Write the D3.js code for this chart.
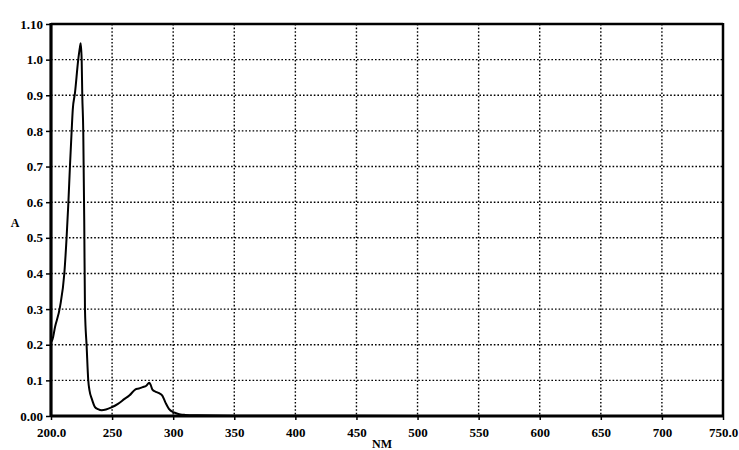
<!DOCTYPE html>
<html>
<head>
<meta charset="utf-8">
<script src="https://cdn.jsdelivr.net/npm/d3@7"></script>
<style>
    body { margin: 0; background: #fff; }
    .axis text { font-family: "Liberation Serif", serif; font-weight: bold; font-size: 13px; fill: #000; }
    .axis path { display: none; }
    .axis line { stroke: #000; stroke-width: 1.5; }
</style>
</head>
<body>
<script>
// spectrum
var wavelengths = [200, 200.7, 203.3, 207.4, 210.9, 212.8, 214.2, 215.5, 216.9, 217.8, 219.6, 222.3, 223.7, 224.3,
    225.1, 225.6, 226.4, 227.2, 227.8, 229.2, 230.5, 231.5, 233.4, 236, 238.5, 241.5, 245, 249.5, 254.8,
    260.2, 264.3, 267, 269.7, 272, 275, 278, 280.4, 281.5, 283, 285.8, 288.5, 291.1,
    293.9, 296.5, 300.6, 303, 306, 310, 320, 350, 400, 500, 600, 750];
var absorbance = [0.225, 0.21, 0.25, 0.307, 0.40, 0.503, 0.597, 0.70, 0.80, 0.859, 0.906, 1.0, 1.035, 1.046,
    1.0, 0.90, 0.80, 0.55, 0.30, 0.194, 0.10, 0.072, 0.048, 0.025, 0.019, 0.016, 0.018, 0.024, 0.034,
    0.048, 0.058, 0.068, 0.076, 0.077, 0.081, 0.085, 0.093, 0.088, 0.074, 0.068, 0.064, 0.057,
    0.036, 0.02, 0.01, 0.007, 0.004, 0.003, 0.002, 0.001, 0.001, 0, 0, 0];

var xTicks = [200, 250, 300, 350, 400, 450, 500, 550, 600, 650, 700, 750];
var xTickLabels = ["200.0", "250", "300", "350", "400", "450", "500", "550", "600", "650", "700", "750.0"];
var yTicks = [0, 0.1, 0.2, 0.3, 0.4, 0.5, 0.6, 0.7, 0.8, 0.9, 1.0, 1.1];
var yTickLabels = ["0.00", "0.1", "0.2", "0.3", "0.4", "0.5", "0.6", "0.7", "0.8", "0.9", "1.0", "1.10"];

var width = 739;
var height = 450;
var plotL = 51, plotR = 723, plotT = 24, plotB = 416;

var svg = d3.select("body").append("svg")
    .attr("width", width)
    .attr("height", height);

var xScale = d3.scaleLinear().domain([200, 750]).range([plotL, plotR]);
var yScale = d3.scaleLinear().domain([0, 1.1]).range([plotB, plotT]);

// dotted grid
svg.append("g").selectAll("line")
    .data(xTicks.slice(1, -1))
    .enter().append("line")
    .attr("x1", (d) => xScale(d)).attr("x2", (d) => xScale(d))
    .attr("y1", plotT).attr("y2", plotB)
    .attr("stroke", "#000").attr("stroke-width", 1.4)
    .attr("stroke-dasharray", "1.6,2");
svg.append("g").selectAll("line")
    .data(yTicks.slice(1, -1))
    .enter().append("line")
    .attr("x1", plotL).attr("x2", plotR)
    .attr("y1", (d) => yScale(d)).attr("y2", (d) => yScale(d))
    .attr("stroke", "#000").attr("stroke-width", 1.4)
    .attr("stroke-dasharray", "1.6,2");

var xAxisGen = d3.axisBottom(xScale)
    .tickValues(xTicks)
    .tickSize(4)
    .tickPadding(8)
    .tickFormat((d, i) => xTickLabels[i]);
svg.append("g").attr("class", "axis")
    .attr("transform", "translate(0," + plotB + ")")
    .call(xAxisGen);

var yAxisGen = d3.axisLeft(yScale)
    .tickValues(yTicks)
    .tickSize(5)
    .tickPadding(3)
    .tickFormat((d, i) => yTickLabels[i]);
svg.append("g").attr("class", "axis")
    .attr("transform", "translate(" + plotL + ",0)")
    .call(yAxisGen);

// frame
svg.append("line").attr("x1", plotL).attr("x2", plotR).attr("y1", plotT).attr("y2", plotT)
    .attr("stroke", "#000").attr("stroke-width", 2.5);
svg.append("line").attr("x1", plotR).attr("x2", plotR).attr("y1", plotT - 1).attr("y2", plotB)
    .attr("stroke", "#000").attr("stroke-width", 2.5);
svg.append("line").attr("x1", plotL).attr("x2", plotR + 1).attr("y1", plotB).attr("y2", plotB)
    .attr("stroke", "#000").attr("stroke-width", 3.2);
svg.append("line").attr("x1", plotL).attr("x2", plotL).attr("y1", plotT - 1).attr("y2", plotB + 1)
    .attr("stroke", "#000").attr("stroke-width", 3.2);

var line = d3.line()
    .x((d, i) => xScale(wavelengths[i]))
    .y((d) => yScale(d))
    .curve(d3.curveMonotoneX);
svg.append("path")
    .datum(absorbance)
    .attr("d", line)
    .attr("fill", "none")
    .attr("stroke", "#000")
    .attr("stroke-width", 2)
    .attr("stroke-linejoin", "round");

svg.append("text")
    .attr("x", 15).attr("y", yScale(0.53))
    .attr("text-anchor", "middle")
    .style("font-family", "Liberation Serif, serif")
    .style("font-weight", "bold")
    .style("font-size", "12px")
    .text("A");
svg.append("text")
    .attr("x", 382).attr("y", 448)
    .attr("text-anchor", "middle")
    .style("font-family", "Liberation Serif, serif")
    .style("font-weight", "bold")
    .style("font-size", "12px")
    .text("NM");
</script>
</body>
</html>
